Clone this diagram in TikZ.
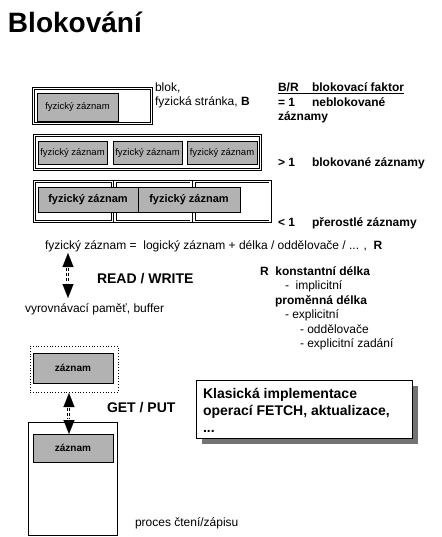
\documentclass[tikz,border=0pt]{standalone}
\usepackage{fontspec}
\setmainfont{Liberation Sans}
\usetikzlibrary{arrows.meta}
\tikzset{
  every node/.style={inner sep=0pt, outer sep=0pt},
  txt/.style={anchor=base west, font=\fontsize{12}{14}\selectfont},
  btxt/.style={anchor=base west, font=\fontsize{12}{14}\selectfont\bfseries},
  bigtxt/.style={anchor=base west, font=\fontsize{14}{17}\selectfont\bfseries},
  frame/.style={draw, double, double distance=1.6pt, line width=0.7pt, anchor=north west},
  rec/.style={draw, fill=black!30, line width=0.8pt, anchor=north west, font=\fontsize{9.5}{11}\selectfont},
  brec/.style={rec, font=\fontsize{11}{13}\selectfont\bfseries},
  tipsonly/.style={white, line width=0.1pt, {Triangle[width=11pt,length=14pt,black]}-{Triangle[width=11pt,length=14pt,black]}},
  shaftl/.style={black, line width=0.7pt, dash pattern=on 3pt off 2pt, shorten <=15pt, shorten >=15pt, transform canvas={xshift=-1.5pt}},
  shaftr/.style={shaftl, transform canvas={xshift=1.5pt}},
}
\begin{document}
\begin{tikzpicture}[x=1pt,y=-1pt]
\useasboundingbox (0,0) rectangle (441,537);

% title
\node[anchor=base west, font=\fontsize{28}{32}\selectfont\bfseries] (title) at (8,33) {Blokování};

% box 1
\node[frame, minimum width=118, minimum height=35] (b1) at (33.5,88.5) {};
\node[rec, minimum width=81, minimum height=28] (r1) at (37,93) {fyzický záznam};
\node[txt] (blok) at (155,92) {blok,};
\node[txt] (stranka) at (155,106) {fyzická stránka, \textbf{B}};

% right column
\node[btxt] (hdr) at (278,92) {\underline{\makebox[34pt][l]{B/R}blokovací faktor}};
\node[btxt] (eq1) at (278,107) {= 1};
\node[btxt] (neblok) at (312,107) {neblokované};
\node[btxt] (zazn) at (278,121) {záznamy};
\node[btxt] (gt1) at (278,167) {> 1};
\node[btxt] (blokz) at (312,167) {blokované záznamy};
\node[btxt] (lt1) at (278,226) {< 1};
\node[btxt] (prer) at (312,226) {přerostlé záznamy};

% box 2
\node[frame, minimum width=226, minimum height=34] (b2) at (34.5,135.5) {};
\node[rec, minimum width=69, minimum height=23] (r21) at (38,141) {fyzický záznam};
\node[rec, minimum width=69, minimum height=23] (r22) at (113,141) {fyzický záznam};
\node[rec, minimum width=70, minimum height=23] (r23) at (187,141) {fyzický záznam};

% box 3
\node[frame, minimum width=78, minimum height=40] (b31) at (34.5,181.5) {};
\node[frame, minimum width=76, minimum height=40] (b32) at (115,181.5) {};
\node[frame, minimum width=76, minimum height=40] (b33) at (194,181.5) {};
\node[brec, minimum width=100, minimum height=25] (r31) at (38,187.5) {fyzický záznam};
\node[brec, minimum width=102, minimum height=25] (r32) at (138,187.5) {fyzický záznam};

% formula line
\node[txt] (fz) at (45,249) {fyzický záznam =\ \ logický záznam + délka / oddělovače / ... ,\ \ \textbf{R}};

% READ/WRITE arrow
\coordinate (a1t) at (68,253);
\coordinate (a1b) at (68,298);
\draw[tipsonly] (a1t) -- (a1b);
\draw[shaftl] (a1t) -- (a1b);
\draw[shaftr] (a1t) -- (a1b);
\node[bigtxt] (rw) at (97,283) {READ / WRITE};
\node[txt] (vb) at (25,312) {vyrovnávací paměť, buffer};

% R description
\node[btxt] (rk) at (260,275) {R\ \ konstantní délka};
\node[txt] (impl) at (285,289.5) {-\ \ implicitní};
\node[btxt] (prom) at (275,304) {proměnná délka};
\node[txt] (expl) at (285,318.5) {- explicitní};
\node[txt] (odd) at (300,333) {- oddělovače};
\node[txt] (expz) at (300,347.5) {- explicitní zadání};

% buffer record
\node[draw, dotted, line width=0.8pt, anchor=north west, minimum width=88, minimum height=46] (db) at (30,346) {};
\node[brec, font=\fontsize{10}{12}\selectfont\bfseries, minimum width=80, minimum height=30] (z1) at (33,353) {záznam};

% process
\node[draw, line width=0.8pt, anchor=north west, minimum width=89, minimum height=113] (pb) at (28,422) {};
\node[brec, font=\fontsize{10}{12}\selectfont\bfseries, minimum width=80, minimum height=28] (z2) at (33,434) {záznam};
\node[txt] (proc) at (135,526) {proces čtení/zápisu};

% GET/PUT arrow
\coordinate (a2t) at (69,393);
\coordinate (a2b) at (69,434);
\draw[tipsonly] (a2t) -- (a2b);
\draw[shaftl] (a2t) -- (a2b);
\draw[shaftr] (a2t) -- (a2b);
\node[bigtxt] (gp) at (107,412) {GET / PUT};

% shadow box
\fill[black!55] (202,386) rectangle (418,444);
\node[draw, fill=white, line width=0.8pt, anchor=north west, minimum width=216, minimum height=58] (kb) at (196,380) {};
\node[bigtxt] (k1) at (203,398) {Klasická implementace};
\node[bigtxt] (k2) at (203,415) {operací FETCH, aktualizace,};
\node[bigtxt] (k3) at (203,432) {...};
\end{tikzpicture}
\end{document}
